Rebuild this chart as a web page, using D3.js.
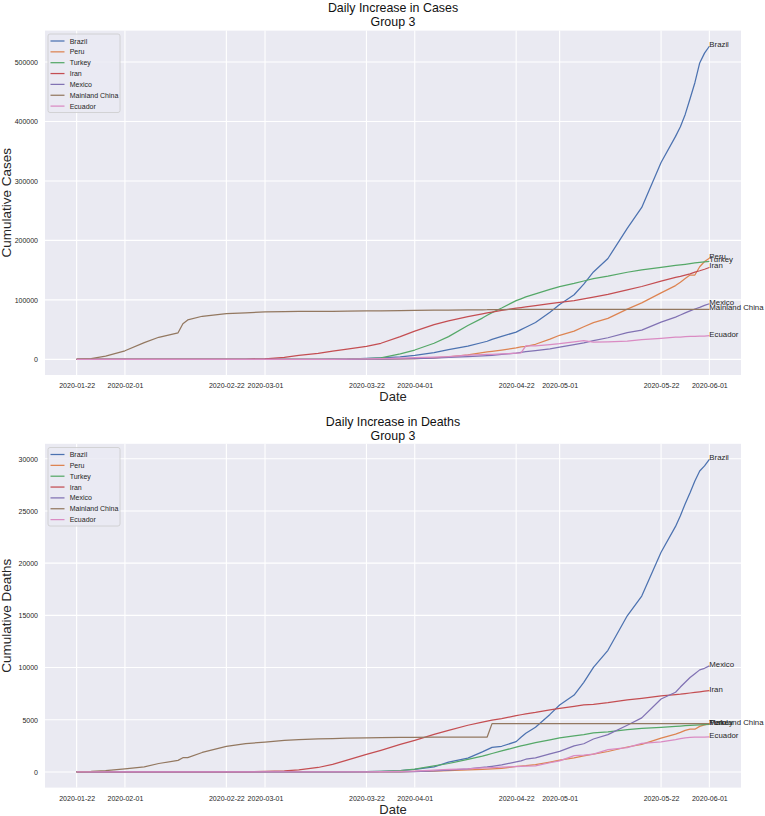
<!DOCTYPE html>
<html>
<head>
<meta charset="utf-8">
<script src="https://cdn.jsdelivr.net/npm/d3@7"></script>
<style>
  html, body { margin: 0; padding: 0; background: #ffffff; }
  svg { display: block; }
  text { font-family: "Liberation Sans", Arial, Helvetica, sans-serif; fill: #262626; }
</style>
</head>
<body>
<svg id="chart" width="765" height="816"></svg>
<script>
// ---------------- DATA ----------------
const dates = ["2020-01-22","2020-01-25","2020-01-28","2020-02-01","2020-02-05","2020-02-08","2020-02-12","2020-02-13","2020-02-14","2020-02-17",
  "2020-02-22","2020-02-26","2020-03-01","2020-03-05","2020-03-08","2020-03-12","2020-03-15","2020-03-18","2020-03-22","2020-03-25",
  "2020-03-29","2020-04-01","2020-04-05","2020-04-08","2020-04-12","2020-04-15","2020-04-16","2020-04-17","2020-04-19","2020-04-22",
  "2020-04-23","2020-04-24","2020-04-26","2020-04-29","2020-05-01","2020-05-04","2020-05-06","2020-05-08","2020-05-11","2020-05-15",
  "2020-05-18","2020-05-22","2020-05-25","2020-05-26","2020-05-27","2020-05-28","2020-05-29","2020-05-30","2020-05-31","2020-06-01"];

const countries = ["Brazil","Peru","Turkey","Iran","Mexico","Mainland China","Ecuador"];
const colors = ["#4c72b0","#dd8452","#55a868","#c44e52","#8172b3","#937860","#da8bc3"];

const casesBrazil = [0,0,0,0,0,0,0,0,0,0, 0,1,2,8,20,52,162,372,1593,2554,
  4256,6836,11130,16170,22192,28320,30425,33682,38654,45757,
  50036,54043,61888,79361,92202,108620,126611,146894,169594,220291,
  255368,330890,374898,391222,411821,438238,465166,498440,514849,526447];
const casesPeru = [0,0,0,0,0,0,0,0,0,0, 0,0,0,0,7,22,43,145,363,480,
  852,1323,2281,4342,7519,11475,12491,13489,15628,19250,
  20914,21648,25331,33931,40459,47372,54817,61847,68822,84495,
  94933,111698,123979,129751,135905,141779,141779,155671,164476,170039];
const casesTurkey = [0,0,0,0,0,0,0,0,0,0, 0,0,0,0,0,1,18,191,1236,2433,
  9217,15679,27069,38226,56956,69392,74193,78546,86306,98674,
  101790,104912,110130,117589,122392,127659,131744,135569,139771,146457,
  150593,154500,157814,158762,159797,160979,162120,163103,163942,164769];
const casesIran = [0,0,0,0,0,0,0,0,0,0, 28,139,978,3513,6566,10075,13938,17361,21638,27017,
  38309,47593,58226,64586,71686,76389,77995,79494,82211,85996,
  87026,88194,90481,93657,95646,98647,101650,104691,109286,116635,
  122492,131652,137724,139511,141591,143849,146668,148950,151466,154445];
const casesMexico = [0,0,0,0,0,0,0,0,0,0, 0,0,5,5,7,12,41,118,316,475,
  848,1378,2143,3181,4661,5847,6297,6875,8261,10544,
  11633,12872,14677,17799,20739,24905,27634,31522,36327,45032,
  49219,62527,71105,74560,78023,81400,84627,87512,90664,93435];
const casesChina = [547,1399,5509,14380,28060,37120,44690,59832,66292,72436,
  76936,78191,79932,80409,80695,80793,80844,80928,81397,81661,
  82122,82361,82602,82809,83134,83356,83403,83760,83805,83864,
  83876,83884,83909,83940,83959,83966,83970,83976,84010,84029,
  84054,84084,84102,84103,84106,84106,84123,84125,84128,84128];
const casesEcuador = [0,0,0,0,0,0,0,0,0,0, 0,0,6,13,15,17,37,168,789,1211,
  1924,2748,3646,4450,7257,7858,8225,8450,9022,10398,
  10850,22719,22719,24934,26336,29538,31467,28818,29509,30502,
  33182,35306,37355,37355,38103,38471,38571,39098,39098,39994];

const deathsBrazil = [0,0,0,0,0,0,0,0,0,0, 0,0,0,0,0,0,0,3,25,59,
  136,241,486,941,1328,1924,2141,2354,2462,2906,
  3331,3704,4286,5513,6412,7367,8588,10017,11653,14962,
  16853,21048,23522,24549,25697,26754,27878,28834,29314,29937];
const deathsPeru = [0,0,0,0,0,0,0,0,0,0, 0,0,0,0,0,0,0,0,5,9,
  18,47,83,138,193,254,274,300,348,530,
  572,607,700,943,1124,1344,1533,1714,1961,2392,
  2648,3244,3629,3788,3983,4099,4099,4371,4506,4634];
const deathsTurkey = [0,0,0,0,0,0,0,0,0,0, 0,0,0,0,0,0,0,4,30,59,
  131,277,574,812,1198,1518,1643,1769,2017,2376,
  2491,2600,2805,3081,3258,3461,3584,3739,3841,4055,
  4171,4276,4369,4397,4431,4461,4489,4515,4540,4563];
const deathsIran = [0,0,0,0,0,0,0,0,0,0, 5,19,54,107,194,429,724,1135,1685,2077,
  2640,3036,3603,3993,4474,4777,4869,4958,5118,5391,
  5481,5574,5710,5957,6091,6277,6418,6486,6640,6902,
  7057,7300,7417,7451,7508,7564,7627,7677,7734,7797];
const deathsMexico = [0,0,0,0,0,0,0,0,0,0, 0,0,0,0,0,0,0,0,2,6,
  16,37,94,174,296,449,486,546,686,970,
  1069,1221,1351,1732,1972,2507,2704,3160,3573,4477,
  5177,6989,7633,8134,8597,9044,9415,9779,9930,10167];
const deathsChina = [17,56,131,304,492,811,1113,1367,1380,1868,
  2442,2715,2870,3015,3097,3169,3199,3231,3261,3281,
  3304,3316,3331,3335,3341,3342,3342,4632,4632,4632,
  4632,4632,4633,4633,4633,4633,4633,4633,4633,4633,
  4634,4634,4634,4634,4634,4634,4634,4634,4634,4634];
const deathsEcuador = [0,0,0,0,0,0,0,0,0,0, 0,0,0,0,0,0,2,3,14,29,
  62,93,180,242,297,388,403,421,456,520,
  537,560,576,883,1063,1569,1618,1717,2145,2327,
  2736,2888,3108,3203,3275,3313,3334,3334,3334,3358];

const xTickLabels = ["2020-01-22","2020-02-01","2020-02-22","2020-03-01","2020-03-22","2020-04-01","2020-04-22","2020-05-01","2020-05-22","2020-06-01"];
const caseTicks = [0,100000,200000,300000,400000,500000];
const deathTicks = [0,5000,10000,15000,20000,25000,30000];

const caseSeries = [casesBrazil,casesPeru,casesTurkey,casesIran,casesMexico,casesChina,casesEcuador];
const deathSeries = [deathsBrazil,deathsPeru,deathsTurkey,deathsIran,deathsMexico,deathsChina,deathsEcuador];

// ---------------- DRAW ----------------
const svg = d3.select("#chart");
const parse = d3.utcParse("%Y-%m-%d");
const dateObjs = dates.map(parse);
const FONT = '"Liberation Sans", Arial, Helvetica, sans-serif';

function panel(cfg) {
  const left = 45, right = 741;
  const g = svg.append("g");
  const t0 = dateObjs[0].getTime(), t1 = dateObjs[dateObjs.length - 1].getTime();
  const pad = (t1 - t0) * 0.05;
  const x = d3.scaleUtc().domain([new Date(t0 - pad), new Date(t1 + pad)]).range([left, right]);
  const allVals = cfg.series.flat();
  const vmin = d3.min(allVals), vmax = d3.max(allVals);
  const vpad = (vmax - vmin) * 0.05;
  const y = d3.scaleLinear().domain([vmin - vpad, vmax + vpad]).range([cfg.bottom, cfg.top]);

  // background
  g.append("rect").attr("x", left).attr("y", cfg.top).attr("width", right - left)
    .attr("height", cfg.bottom - cfg.top).attr("fill", "#eaeaf2");

  // grid
  const xt = xTickLabels.map(parse);
  g.append("g").selectAll("line").data(xt).join("line")
    .attr("x1", d => x(d)).attr("x2", d => x(d))
    .attr("y1", cfg.top).attr("y2", cfg.bottom)
    .attr("stroke", "#ffffff").attr("stroke-width", 1.1);
  g.append("g").selectAll("line").data(cfg.yTicks).join("line")
    .attr("x1", left).attr("x2", right)
    .attr("y1", d => y(d)).attr("y2", d => y(d))
    .attr("stroke", "#ffffff").attr("stroke-width", 1.1);

  // axes (labels only, no spines)
  const xAxis = d3.axisBottom(x).tickValues(xt).tickFormat(d3.utcFormat("%Y-%m-%d")).tickSize(0).tickPadding(8);
  const xa = g.append("g").attr("transform", `translate(0,${cfg.bottom})`).call(xAxis);
  xa.select(".domain").remove();
  xa.selectAll("text").style("font-size", "7px").style("fill", "#262626").style("font-family", FONT);

  const yAxis = d3.axisLeft(y).tickValues(cfg.yTicks).tickFormat(d3.format("d")).tickSize(0).tickPadding(7);
  const ya = g.append("g").attr("transform", `translate(${left},0)`).call(yAxis);
  ya.select(".domain").remove();
  ya.selectAll("text").style("font-size", "7px").style("fill", "#262626").style("font-family", FONT);

  // lines
  const line = d3.line().x((d, i) => x(dateObjs[i])).y(d => y(d));
  cfg.series.forEach((s, k) => {
    g.append("path").datum(s).attr("d", line).attr("fill", "none")
      .attr("stroke", colors[k]).attr("stroke-width", 1.25).attr("stroke-linejoin", "round");
  });

  // end labels
  cfg.series.forEach((s, k) => {
    const last = s.length - 1;
    g.append("text").attr("x", x(dateObjs[last])).attr("y", y(s[last]) + 1)
      .style("font-size", "7.8px").style("fill", "#262626").text(countries[k]);
  });

  // legend
  const lg = g.append("g");
  lg.append("rect").attr("x", 48).attr("y", cfg.legendTop).attr("width", 72).attr("height", 78.5)
    .attr("rx", 2).attr("fill", "#eaeaf2").attr("fill-opacity", 0.8)
    .attr("stroke", "#cccccc").attr("stroke-width", 0.8);
  countries.forEach((c, k) => {
    const cy = cfg.legendTop + 7 + k * 10.85;
    lg.append("line").attr("x1", 50.5).attr("x2", 64.5).attr("y1", cy).attr("y2", cy)
      .attr("stroke", colors[k]).attr("stroke-width", 1.25);
    lg.append("text").attr("x", 69.7).attr("y", cy + 2.5).style("font-size", "7px")
      .style("fill", "#262626").text(c);
  });

  // titles
  const cx = (left + right) / 2;
  g.append("text").attr("x", cx).attr("y", cfg.titleY).attr("text-anchor", "middle")
    .style("font-size", "12.4px").style("fill", "#111").text(cfg.title);
  g.append("text").attr("x", cx).attr("y", cfg.titleY + 14.5).attr("text-anchor", "middle")
    .style("font-size", "12.4px").style("fill", "#111").text("Group 3");

  // axis labels
  g.append("text").attr("x", cx).attr("y", cfg.bottom + 26).attr("text-anchor", "middle")
    .style("font-size", "13px").text("Date");
  const ymid = (cfg.top + cfg.bottom) / 2;
  g.append("text").attr("transform", `translate(11,${ymid}) rotate(-90)`).attr("text-anchor", "middle")
    .style("font-size", "13.5px").text(cfg.ylabel);
}

panel({ top: 30.6, bottom: 375, series: caseSeries, yTicks: caseTicks,
  title: "Daily Increase in Cases", titleY: 11.5, ylabel: "Cumulative Cases", legendTop: 34 });
panel({ top: 443.8, bottom: 787.6, series: deathSeries, yTicks: deathTicks,
  title: "Daily Increase in Deaths", titleY: 425.5, ylabel: "Cumulative Deaths", legendTop: 447.5 });
</script>
</body>
</html>
